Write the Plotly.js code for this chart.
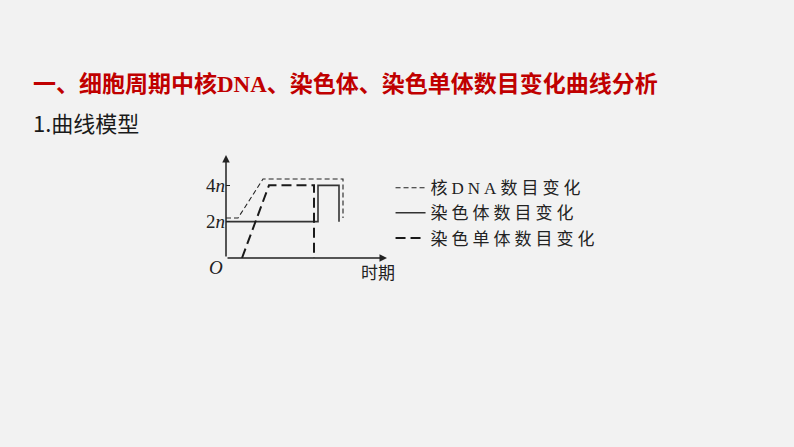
<!DOCTYPE html>
<html>
<head>
<meta charset="utf-8">
<script src="https://cdn.plot.ly/plotly-3.0.1.min.js"></script>
<style>
  html, body { margin: 0; padding: 0; background: #f2f2f2; }
  #chart { width: 794px; height: 447px; }
</style>
</head>
<body>
<div id="chart"></div>
<script>
// curve model: values in units of n, time in arbitrary steps
var dnaX = [0, 1.2, 3.7, 11.7, 11.7];
var dnaY = [2.2, 2.2, 4.35, 4.35, 2.2];

var chromX = [0, 9.2, 9.2, 11.3, 11.3];
var chromY = [2, 2, 4, 4, 2];

var chromatidX = [1.6, 4.3, 8.8, 8.8];
var chromatidY = [0, 4, 4, 0];

var yTickVals = [2, 4];
var yTickText = ['2<i>n</i>', '4<i>n</i>'];

var names = ['核<span style="font-family:Liberation Serif">DNA</span>数目变化', '染色体数目变化', '染色单体数目变化'];

var serif = 'Liberation Serif, DejaVu Serif, serif';
var cjk = 'Noto Sans CJK SC, sans-serif';

// plot area in page pixels, used to place paper-referenced items
var plotL = 226, plotR = 387, plotT = 155, plotB = 258;
function px(x) { return (x - plotL) / (plotR - plotL); }
function py(y) { return (plotB - y) / (plotB - plotT); }

function spaced(s) {
    return '<span style="letter-spacing:4px">' + s + '</span>';
}

var traces = [
    {
        x: dnaX, y: dnaY,
        mode: 'lines',
        name: spaced(names[0]),
        line: { color: '#222', width: 1.1, dash: '5px,3px' }
    },
    {
        x: chromX, y: chromY,
        mode: 'lines',
        name: spaced(names[1]),
        line: { color: '#333', width: 1.6 }
    },
    {
        x: chromatidX, y: chromatidY,
        mode: 'lines',
        name: spaced(names[2]),
        line: { color: '#1a1a1a', width: 2, dash: '10px,5px' }
    }
];

var layout = {
    width: 794,
    height: 447,
    paper_bgcolor: '#f2f2f2',
    plot_bgcolor: 'rgba(0,0,0,0)',
    margin: { l: plotL, r: 794 - plotR, t: plotT, b: 447 - plotB },
    showlegend: true,
    legend: {
        x: 1.022, xanchor: 'left',
        y: 0.853, yanchor: 'top',
        bgcolor: 'rgba(0,0,0,0)',
        font: { family: cjk, size: 17, color: '#222' },
        tracegroupgap: 0
    },
    xaxis: {
        range: [0, 16.1],
        showgrid: false, zeroline: false, showline: false,
        showticklabels: false, ticks: '', fixedrange: true
    },
    yaxis: {
        range: [0, 5.67],
        showgrid: false, zeroline: false, showline: false,
        tickvals: yTickVals, ticktext: yTickText,
        ticks: 'inside', ticklen: 4, tickwidth: 1.2, tickcolor: '#222',
        tickfont: { family: serif, size: 19, color: '#222' },
        fixedrange: true
    },
    annotations: [
        // axes with arrow heads
        {
            x: 0, y: 5.67, ax: 0, ay: 0, xref: 'x', yref: 'y', axref: 'x', ayref: 'y',
            showarrow: true, arrowhead: 2, arrowsize: 1, arrowwidth: 1.5, arrowcolor: '#222', text: ''
        },
        {
            x: 16.1, y: 0, ax: 0, ay: 0, xref: 'x', yref: 'y', axref: 'x', ayref: 'y',
            showarrow: true, arrowhead: 2, arrowsize: 1, arrowwidth: 1.5, arrowcolor: '#222', text: ''
        },
        {
            x: 0, y: 0, xref: 'x', yref: 'y', xanchor: 'right', yanchor: 'top',
            xshift: -1, yshift: 3, showarrow: false,
            text: '<i>O</i>', font: { family: serif, size: 19, color: '#222' }
        },
        {
            x: 16.1, y: 0, xref: 'x', yref: 'y', xanchor: 'right', yanchor: 'top',
            xshift: 10, yshift: 1, showarrow: false,
            text: '时期', font: { family: cjk, size: 17, color: '#222' }
        },
        // page heading
        {
            x: px(31), y: py(82), xref: 'paper', yref: 'paper',
            xanchor: 'left', yanchor: 'middle', showarrow: false,
            text: '<b>一、细胞周期中核<span style="font-family:Liberation Serif">DNA</span>、染色体、染色单体数目变化曲线分析</b>',
            font: { family: cjk, size: 23, color: '#c00000' }
        },
        {
            x: px(31), y: py(122), xref: 'paper', yref: 'paper',
            xanchor: 'left', yanchor: 'middle', showarrow: false,
            text: '1.曲线模型',
            font: { family: cjk, size: 22, color: '#1a1a1a' }
        }
    ]
};

Plotly.newPlot('chart', traces, layout, { displayModeBar: false, staticPlot: true });
</script>
</body>
</html>
